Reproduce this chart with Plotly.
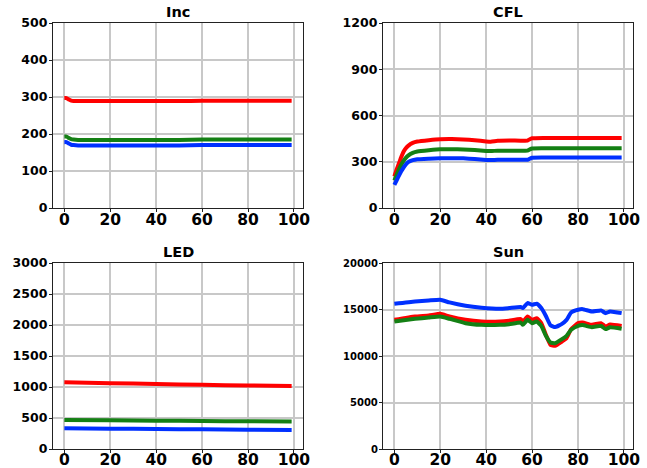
import plotly.graph_objects as go

# ---------------- data ----------------
inc_x = [0, 1, 2, 3, 4, 6, 10, 20, 30, 40, 50, 60, 70, 80, 90, 99]
inc_red = [297, 297, 293, 290, 289, 289, 289, 289, 289, 289, 289, 290, 290, 290, 290, 290]
inc_green = [193, 193, 189, 186, 185, 184, 184, 184, 184, 184, 184, 185, 185, 185, 185, 185]
inc_blue = [178, 178, 174, 171, 170, 169, 169, 169, 169, 169, 169, 170, 170, 170, 170, 170]

cfl_x = [0, 1, 2, 3, 4, 5, 6, 8, 10, 15, 20, 25, 30, 35, 40, 42, 45, 50, 55, 58, 59, 60, 65, 70, 80, 90, 99]
cfl_red = [205, 250, 290, 330, 365, 388, 403, 422, 431, 440, 446, 447, 445, 440, 432, 430, 436, 438, 437, 437, 446, 452, 454, 454, 454, 454, 454]
cfl_green = [178, 215, 250, 280, 305, 325, 340, 358, 367, 375, 381, 381, 380, 376, 370, 369, 372, 372, 372, 372, 380, 386, 387, 387, 387, 387, 387]
cfl_blue = [150, 180, 210, 238, 262, 282, 297, 310, 316, 320, 323, 323, 322, 318, 312, 311, 313, 313, 313, 313, 320, 326, 327, 327, 327, 327, 327]

led_x = [0, 20, 40, 60, 80, 99]
led_red = [1078, 1062, 1048, 1035, 1025, 1018]
led_green = [468, 463, 457, 452, 447, 442]
led_blue = [334, 328, 322, 317, 312, 307]

sun_x = [0, 9, 15, 20, 24, 31, 38, 46, 50, 55, 56, 58, 60, 62, 64, 66, 68, 70, 73, 75, 77, 80, 82, 86, 90, 92, 94, 99]
sun_red = [13890, 14250, 14360, 14540, 14250, 13890, 13710, 13710, 13800, 13970, 13710, 14250, 13890, 14070, 13530, 12280, 11200, 11090, 11560, 11920, 12890, 13530, 13600, 13350, 13530, 13170, 13400, 13240]
sun_green = [13710, 14000, 14140, 14250, 14000, 13530, 13350, 13350, 13420, 13600, 13350, 13890, 13530, 13710, 13240, 12170, 11450, 11380, 11810, 12170, 12820, 13240, 13320, 13100, 13240, 12890, 13100, 12940]
sun_blue = [15620, 15870, 15980, 16050, 15760, 15400, 15190, 15080, 15150, 15260, 15150, 15690, 15510, 15620, 15150, 14300, 13300, 13105, 13460, 13890, 14680, 14970, 15040, 14790, 14900, 14610, 14790, 14610]

titles = ["Inc", "CFL", "LED", "Sun"]
y_ranges = [500, 1200, 3000, 20000]
y_dticks = [100, 300, 500, 5000]
x_ticks = [0, 20, 40, 60, 80, 100]

COLORS = {"red": "rgb(255,0,0)", "green": "rgb(20,128,20)", "blue": "rgb(0,48,255)"}

panels = [
    (inc_x, inc_red, inc_green, inc_blue),
    (cfl_x, cfl_red, cfl_green, cfl_blue),
    (led_x, led_red, led_green, led_blue),
    (sun_x, sun_red, sun_green, sun_blue),
]

W, H = 647, 468
x_doms = [(53 / W, 303 / W), (383 / W, 633 / W)]
y_doms = [(1 - 208 / H, 1 - 23 / H), (1 - 449 / H, 1 - 263 / H)]

fig = go.Figure()
layout = {}
annotations = []
for i, (xs, r, g, b) in enumerate(panels):
    row, col = divmod(i, 2)
    n = i + 1
    xa = "x" if n == 1 else f"x{n}"
    ya = "y" if n == 1 else f"y{n}"
    for ys, c in ((r, "red"), (g, "green"), (b, "blue")):
        fig.add_trace(go.Scatter(x=xs, y=ys, mode="lines", xaxis=xa, yaxis=ya,
                                 line=dict(color=COLORS[c], width=4, shape="spline", smoothing=0.4),
                                 showlegend=False, hoverinfo="skip"))
    ytick_size = 10 if i == 3 else 12.5
    layout[f"xaxis{'' if n == 1 else n}"] = dict(
        domain=x_doms[col], anchor=ya, range=[-4.95, 103.95],
        tickvals=x_ticks, ticktext=[str(v) for v in x_ticks],
        tickfont=dict(family="DejaVu Sans", size=15.5, color="black", weight="bold"),
        showgrid=True, gridcolor="#c8c8c8", gridwidth=1.5,
        showline=True, linecolor="#222", linewidth=1.3, mirror=True,
        ticks="outside", ticklen=3, tickcolor="#222", zeroline=False,
        automargin=False, ticklabelstandoff=(-6 if row == 0 else -7),
    )
    layout[f"yaxis{'' if n == 1 else n}"] = dict(
        domain=y_doms[row], anchor=xa, range=[0, y_ranges[i]],
        tickvals=list(range(0, y_ranges[i] + 1, y_dticks[i])),
        ticktext=[str(v) for v in range(0, y_ranges[i] + 1, y_dticks[i])],
        tickfont=dict(family="DejaVu Sans", size=ytick_size, color="black", weight="bold"),
        showgrid=True, gridcolor="#c8c8c8", gridwidth=1.5,
        showline=True, linecolor="#222", linewidth=1.3, mirror=True,
        ticks="outside", ticklen=3, tickcolor="#222", zeroline=False,
        automargin=False, ticklabelstandoff=-1,
    )
    annotations.append(dict(
        text=titles[i], xref="paper", yref="paper",
        x=(x_doms[col][0] + x_doms[col][1]) / 2, y=y_doms[row][1],
        xanchor="center", yanchor="bottom", yshift=1, showarrow=False,
        font=dict(family="DejaVu Sans", size=14.5, color="black", weight="bold"),
    ))

fig.update_layout(
    width=W, height=H, margin=dict(l=0, r=0, t=0, b=0, autoexpand=False),
    paper_bgcolor="white", plot_bgcolor="white",
    annotations=annotations, **layout,
)
fig.write_html("out.html", config={"displayModeBar": False},
               post_script="document.body.style.margin='0';document.body.style.padding='0';")
